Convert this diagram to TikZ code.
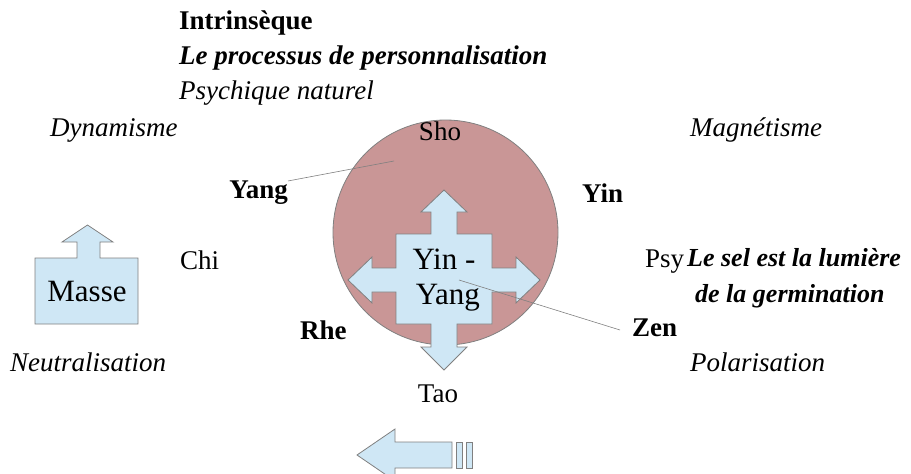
\documentclass[tikz,border=0pt]{standalone}
\usepackage{fontspec}
\setmainfont{Liberation Serif}
\usepackage{tikz}
\definecolor{lblue}{RGB}{207,231,245}
\definecolor{rose}{RGB}{201,150,150}
\definecolor{edge}{RGB}{128,128,128}
\tikzstyle{txt}=[inner sep=0pt,font=\fontsize{27}{36}\selectfont]
\tikzstyle{lbl}=[txt,anchor=west]
\tikzstyle{big}=[inner sep=0pt,font=\fontsize{31}{35}\selectfont,align=center]
\tikzstyle{blk}=[fill=lblue,draw=edge,line width=.8pt,line join=miter]
\tikzstyle{lead}=[draw=edge,line width=.6pt]

\begin{document}
\begin{tikzpicture}[x=1pt,y=-1pt]
	\useasboundingbox (0,0) rectangle (911,474);
	% circle and cross
	\draw[fill=rose,draw=edge,line width=.8pt] (445.5,232.5) circle[radius=112.5pt];
	\draw[blk] (444,190) -- (467,212) -- (457,212) -- (457,234) -- (492,234) -- (492,268)
		-- (516,268) -- (516,257) -- (540,280) -- (516,303) -- (516,292) -- (492,292)
		-- (492,324) -- (457,324) -- (457,347) -- (467,347) -- (444,370) -- (421,347)
		-- (431,347) -- (431,324) -- (396,324) -- (396,292) -- (372,292) -- (372,303)
		-- (348,280) -- (372,257) -- (372,268) -- (396,268) -- (396,234) -- (431,234)
		-- (431,212) -- (421,212) -- cycle;
	\node[big] (yy) at (444,280) {Yin -\\\ Yang};
	% Masse
	\draw[blk] (35,324) -- (35,258) -- (77,258) -- (77,242) -- (62,242) -- (87.5,225)
		-- (113,242) -- (100,242) -- (100,258) -- (138,258) -- (138,324) -- cycle;
	\node[big] (masse) at (87,291) {Masse};
	% bottom arrow
	\draw[blk] (357,455) -- (395,429) -- (395,442) -- (452,442) -- (452,468) -- (395,468)
		-- (395,481) -- cycle;
	\draw[blk] (456,442) rectangle (462,468);
	\draw[blk] (466,442) rectangle (472,468);
	% titles
	\node[lbl] (intr) at (179,23) {\bfseries Intrinsèque};
	\node[lbl] (proc) at (179,58) {\bfseries\itshape Le processus de personnalisation};
	\node[lbl] (psy0) at (179,93) {\itshape Psychique naturel};
	% corners
	\node[lbl] (dyn) at (50,130) {\itshape Dynamisme};
	\node[lbl] (mag) at (690,130) {\itshape Magnétisme};
	\node[lbl] (neu) at (10,362) {\itshape Neutralisation};
	\node[lbl] (pol) at (690,362) {\itshape Polarisation};
	% points
	\node[txt] (sho) at (440,131) {Sho};
	\node[txt] (tao) at (438,394) {Tao};
	\node[lbl] (chi) at (180,260) {Chi};
	\node[lbl] (psy) at (645,262) {Psy};
	\node[txt,anchor=west,align=left,font=\fontsize{26}{36}\selectfont\bfseries\itshape]
		(sel) at (687,278) {Le sel est la lumière\\\hspace*{8pt}de la germination};
	\node[txt,anchor=east] (yang) at (288,193) {\bfseries Yang};
	\node[lbl] (yin) at (582,193) {\bfseries Yin};
	\node[lbl] (rhe) at (300,330) {\bfseries Rhe};
	\node[lbl] (zen) at (632,328) {\bfseries Zen};
	% leaders
	\coordinate (shoend) at (394,161);
	\coordinate (yyin) at (459,280);
	\coordinate (zenend) at (620,330);
	\draw[lead] (yang.north east) -- (shoend);
	\draw[lead] (yyin) -- (zenend);
\end{tikzpicture}
\end{document}
